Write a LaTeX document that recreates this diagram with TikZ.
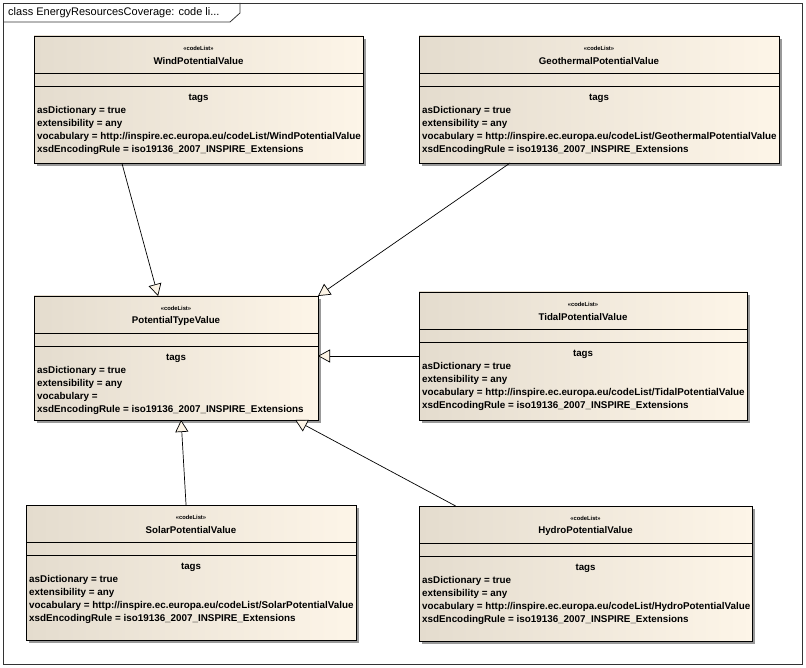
\documentclass[tikz,border=0pt]{standalone}
\usepackage{fontspec}
\setmainfont{Liberation Sans}
\usetikzlibrary{arrows.meta,calc,shadows}
\definecolor{ClassLeft}{RGB}{228,220,206}
\definecolor{ClassRight}{RGB}{253,245,232}
\definecolor{SoftCream}{RGB}{252,244,230}
\tikzset{
  codelist/.style={draw=black,line width=0.8pt,anchor=north west,inner sep=0pt,
    outer sep=0pt,left color=ClassLeft,right color=ClassRight,
    drop shadow={shadow xshift=3pt,shadow yshift=-3pt,fill=black!40,opacity=1}},
  stereo/.style={font=\bfseries\fontsize{5.8}{7}\selectfont,inner sep=0pt},
  classname/.style={font=\bfseries\fontsize{9.7}{11}\selectfont,inner sep=0pt},
  tagshead/.style={font=\bfseries\fontsize{9.7}{11}\selectfont,inner sep=0pt},
  tagline/.style={font=\bfseries\fontsize{9.85}{11}\selectfont,anchor=west,
    inner sep=0pt,text height=6.8pt,text depth=1.9pt},
  generalization/.style={-{Triangle[length=12pt,width=13pt,fill=SoftCream]},
    line width=0.7pt},
  frame/.style={draw=black!80,line width=0.8pt}
}
% one codeList class box: name, x, y, width, height, title, vocabulary
\newcommand{\codelistbox}[7]{%
  \node[codelist,minimum width=#4pt,minimum height=#5pt] (#1) at (#2,#3) {};
  \draw ([yshift=-37pt]#1.north west) -- ([yshift=-37pt]#1.north east);
  \draw ([yshift=-50pt]#1.north west) -- ([yshift=-50pt]#1.north east);
  \node[stereo] (#1-st) at ([yshift=-12pt]#1.north) {«codeList»};
  \node[classname] (#1-nm) at ([yshift=-25pt]#1.north) {#6};
  \node[tagshead] (#1-tg) at ([yshift=-62.5pt]#1.north) {tags};
  \node[tagline] (#1-a) at ([xshift=3pt,yshift=-75.5pt]#1.north west) {asDictionary = true};
  \node[tagline] (#1-b) at ([xshift=3pt,yshift=-88.2pt]#1.north west) {extensibility = any};
  \node[tagline] (#1-c) at ([xshift=3pt,yshift=-100.9pt]#1.north west) {vocabulary = #7};
  \node[tagline] (#1-d) at ([xshift=3pt,yshift=-113.6pt]#1.north west) {xsdEncodingRule = iso19136\_2007\_INSPIRE\_Extensions};
}

\begin{document}
\begin{tikzpicture}[x=1pt,y=-1pt]
  \useasboundingbox (0,0) rectangle (806,668);
  % diagram frame
  \draw[frame] (3,3) rectangle (802,664);
  \draw[frame] (3,22) -- (230,22) -- (240,13) -- (240,3);
  \node[anchor=west,inner sep=0pt,font=\fontsize{11}{13}\selectfont] (title) at (8,12.5)
    {class EnergyResourcesCoverage: code li...};

  \codelistbox{wind}{34}{36}{329}{127}{WindPotentialValue}
    {http://inspire.ec.europa.eu/codeList/WindPotentialValue}
  \codelistbox{geo}{419}{36}{360}{127}{GeothermalPotentialValue}
    {http://inspire.ec.europa.eu/codeList/GeothermalPotentialValue}
  \codelistbox{ptv}{34}{296}{284}{124}{PotentialTypeValue}{}
  \codelistbox{tidal}{419}{292}{328}{128}{TidalPotentialValue}
    {http://inspire.ec.europa.eu/codeList/TidalPotentialValue}
  \codelistbox{solar}{26}{505}{330}{135}{SolarPotentialValue}
    {http://inspire.ec.europa.eu/codeList/SolarPotentialValue}
  \codelistbox{hydro}{419}{506}{333}{135}{HydroPotentialValue}
    {http://inspire.ec.europa.eu/codeList/HydroPotentialValue}

  % generalizations
  \draw[generalization] ($(wind.south west)!0.267!(wind.south east)$)
    -- ($(ptv.north west)!0.437!(ptv.north east)$);
  \draw[generalization] ($(geo.south west)!0.253!(geo.south east)$) -- (ptv.north east);
  \draw[generalization] (tidal.west) -- (tidal.west -| ptv.east);
  \draw[generalization] ($(solar.north west)!0.485!(solar.north east)$)
    -- ($(ptv.south west)!0.518!(ptv.south east)$);
  \draw[generalization] ($(hydro.north west)!0.11!(hydro.north east)$)
    -- ($(ptv.south west)!0.92!(ptv.south east)$);
\end{tikzpicture}
\end{document}
